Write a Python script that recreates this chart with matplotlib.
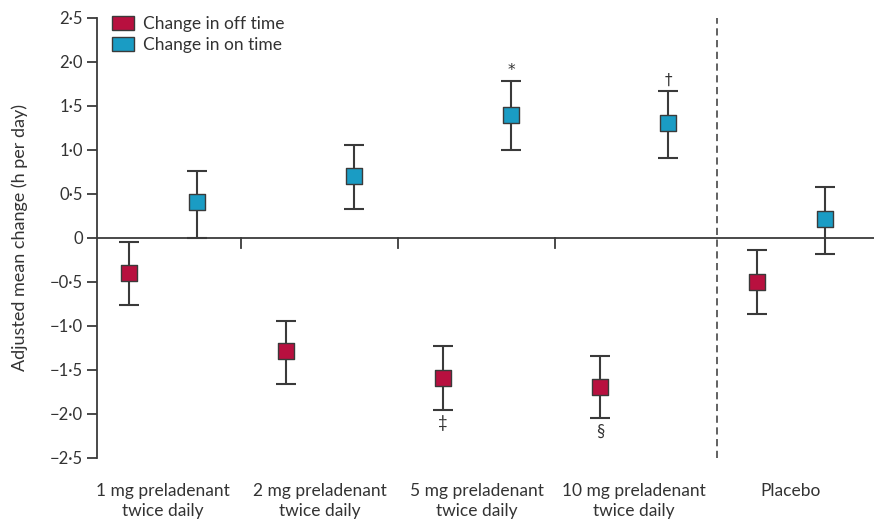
import matplotlib.pyplot as plt
from matplotlib.patches import Patch
from matplotlib.ticker import FuncFormatter

plt.rcParams['font.family'] = ['Lato', 'DejaVu Sans']

# Data
groups = ['1 mg preladenant\ntwice daily', '2 mg preladenant\ntwice daily',
          '5 mg preladenant\ntwice daily', '10 mg preladenant\ntwice daily',
          'Placebo']
off_mean = [-0.40, -1.28, -1.59, -1.69, -0.50]
off_low = [-0.76, -1.66, -1.95, -2.05, -0.86]
off_high = [-0.05, -0.94, -1.23, -1.34, -0.14]
on_mean = [0.41, 0.70, 1.40, 1.30, 0.22]
on_low = [0.00, 0.33, 1.00, 0.91, -0.18]
on_high = [0.76, 1.06, 1.78, 1.67, 0.58]
on_marks = {2: '*', 3: '†'}
off_marks = {2: '‡', 3: '§'}

COLOR_OFF = '#B8103F'
COLOR_ON = '#1A9CC4'
COLOR_LINE = '#3A3A3A'
COLOR_TEXT = '#333333'
FS = 12.5

fig = plt.figure(figsize=(8.74, 5.24), dpi=100)
ax = fig.add_axes([0.111, 0.126, 0.889, 0.84])

x = list(range(len(groups)))
offset = 0.217


def draw_series(xs, mean, low, high, color):
    yerr = [[m - l for m, l in zip(mean, low)], [h - m for m, h in zip(mean, high)]]
    ax.errorbar(xs, mean, yerr=yerr, fmt='none', ecolor=COLOR_LINE,
                elinewidth=1.5, capsize=7, capthick=1.5, zorder=3)
    ax.scatter(xs, mean, marker='s', s=130, color=color,
               edgecolor=COLOR_LINE, linewidth=1.0, zorder=4)


x_off = [i - offset for i in x]
x_on = [i + offset for i in x]
draw_series(x_off, off_mean, off_low, off_high, COLOR_OFF)
draw_series(x_on, on_mean, on_low, on_high, COLOR_ON)

for i, s in on_marks.items():
    ax.text(x_on[i], on_high[i] + 0.04, s, ha='center', va='bottom',
            fontsize=11, color=COLOR_TEXT, family='DejaVu Sans')
for i, s in off_marks.items():
    ax.text(x_off[i], off_low[i] - 0.06, s, ha='center', va='top',
            fontsize=12, color=COLOR_TEXT)

# zero line with group separators
ax.axhline(0, color=COLOR_LINE, lw=1.3, zorder=2)
for b in [0.5, 1.5, 2.5]:
    ax.plot([b, b], [0, -0.11], color=COLOR_LINE, lw=1.3, zorder=2)
ax.axvline(3.53, ymin=0, ymax=1, color='#555555', lw=1.3,
           linestyle=(0, (4, 2.5)), zorder=1)

ax.set_xlim(-0.42, 4.53)
ax.set_ylim(-2.5, 2.5)
ax.set_yticks([-2.5, -2.0, -1.5, -1.0, -0.5, 0, 0.5, 1.0, 1.5, 2.0, 2.5])


def fmt(v, pos):
    if abs(v) < 1e-9:
        return '0'
    s = f'{abs(v):.1f}'.replace('.', '·')
    return ('−' + s) if v < 0 else s


ax.yaxis.set_major_formatter(FuncFormatter(fmt))
ax.set_xticks([])
for sp in ['top', 'right', 'bottom']:
    ax.spines[sp].set_visible(False)
ax.spines['left'].set_color(COLOR_LINE)
ax.spines['left'].set_linewidth(1.3)
ax.tick_params(axis='y', length=7, width=1.3, color=COLOR_LINE,
               labelsize=12, labelcolor=COLOR_TEXT, pad=3)
ax.set_ylabel('Adjusted mean change (h per day)', fontsize=13,
              color=COLOR_TEXT, labelpad=16)

for i, g in enumerate(groups):
    ax.text(i, -2.78, g, ha='center', va='top', fontsize=FS,
            color=COLOR_TEXT, linespacing=1.3)

handles = [Patch(facecolor=COLOR_OFF, edgecolor=COLOR_LINE, label='Change in off time'),
           Patch(facecolor=COLOR_ON, edgecolor=COLOR_LINE, label='Change in on time')]
leg = ax.legend(handles=handles, loc='upper left', bbox_to_anchor=(0.01, 1.02),
                frameon=False, fontsize=FS, handlelength=1.3, handleheight=0.8,
                handletextpad=0.5, labelspacing=0.3, borderaxespad=0)
for t in leg.get_texts():
    t.set_color(COLOR_TEXT)

plt.savefig('out.png', dpi=100, facecolor='white')
plt.close()
print("Saved: out.png")
